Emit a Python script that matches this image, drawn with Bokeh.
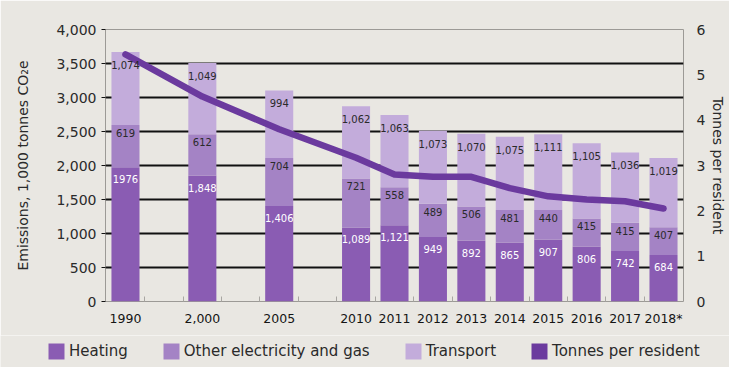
from bokeh.plotting import figure
from bokeh.layouts import column, row
from bokeh.models import (Range1d, LinearAxis, FixedTicker, Legend, LegendItem,
                          ColumnDataSource, NumeralTickFormatter)
from bokeh.core.properties import value
from bokeh.embed import file_html
from bokeh.resources import INLINE

# ---------------- data ----------------
years = ["1990", "2,000", "2005", "2010", "2011", "2012", "2013", "2014",
         "2015", "2016", "2017", "2018*"]
# category slots along the axis ("" = empty gap slot)
slots = ["1990", "", "2,000", "", "2005", "", "2010", "2011", "2012", "2013",
         "2014", "2015", "2016", "2017", "2018*"]
heating = [1976, 1848, 1406, 1089, 1121, 949, 892, 865, 907, 806, 742, 684]
other = [619, 612, 704, 721, 558, 489, 506, 481, 440, 415, 415, 407]
transport = [1074, 1049, 994, 1062, 1063, 1073, 1070, 1075, 1111, 1105, 1036, 1019]
per_resident = [5.45, 4.52, 3.8, 3.17, 2.8, 2.75, 2.75, 2.5, 2.32, 2.25, 2.21, 2.05]
heating_labels = ["1976", "1,848", "1,406", "1,089", "1,121", "949", "892", "865",
                  "907", "806", "742", "684"]
other_labels = [f"{v:,}" for v in other]
transport_labels = [f"{v:,}" for v in transport]
left_ticks = [0, 500, 1000, 1500, 2000, 2500, 3000, 3500, 4000]
right_ticks = [0, 1, 2, 3, 4, 5, 6]
legend_labels = ["Heating", "Other electricity and gas", "Transport", "Tonnes per resident"]

# ---------------- styles ----------------
BG = "#e9e7e2"
C_HEAT = "#8a5cb3"
C_OTHER = "#a483c5"
C_TRANS = "#c3acdb"
C_LINE = "#6b3a9e"
FONT = "DejaVu Sans"
TXT = "#2a2a2a"

x = [slots.index(y) for y in years]
src = ColumnDataSource(dict(
    x=x, heating=heating, other=other, transport=transport,
    y_other=[h + o for h, o in zip(heating, other)],
    y_total=[h + o + t for h, o, t in zip(heating, other, transport)],
    per_resident=per_resident,
    hl=heating_labels, ol=other_labels, tl=transport_labels,
))

p = figure(width=729, height=335, output_backend="svg", toolbar_location=None,
           x_range=Range1d(-0.52, 14.52), y_range=Range1d(0, 4000),
           background_fill_color=BG, border_fill_color=BG)
p.min_border = 0
p.min_border_left = 105
p.min_border_right = 44
p.min_border_top = 29
p.min_border_bottom = 34
p.outline_line_color = "#9c9a96"
p.outline_line_width = 1
p.extra_y_ranges = {"res": Range1d(0, 6)}

# grid
p.xgrid.visible = False
p.ygrid.ticker = FixedTicker(ticks=left_ticks[1:-1])
p.ygrid.grid_line_color = "#111111"
p.ygrid.grid_line_width = 2

# bars
rs = p.vbar_stack(["heating", "other", "transport"], x="x", width=0.73, source=src,
                  color=[C_HEAT, C_OTHER, C_TRANS], line_color=None)

# line
p.line("x", "per_resident", source=src, y_range_name="res",
       line_color=C_LINE, line_width=6.5, line_cap="round", line_join="round")

# bar labels
common = dict(source=src, text_font=value(FONT), text_font_size="10px",
              text_align="center", text_baseline="middle")
p.text(x="x", y="heating", text="hl", text_color="white", y_offset=12, **common)
p.text(x="x", y="y_other", text="ol", text_color=TXT, y_offset=8, **common)
p.text(x="x", y="y_total", text="tl", text_color=TXT, y_offset=13, **common)

# left axis
ya = p.yaxis[0]
ya.ticker = FixedTicker(ticks=left_ticks)
ya.formatter = NumeralTickFormatter(format="0,0")
ya.axis_line_color = None
ya.major_tick_line_color = "#111111"
ya.major_tick_out = 4
ya.major_tick_in = 0
ya.minor_tick_line_color = None
ya.major_label_text_font = FONT
ya.major_label_text_font_size = "14px"
ya.major_label_text_color = TXT
ya.major_label_standoff = 5
ya.axis_label = "Emissions, 1,000 tonnes CO₂e"
ya.axis_label_text_font = FONT
ya.axis_label_text_font_size = "14px"
ya.axis_label_text_font_style = "normal"
ya.axis_label_text_color = TXT
ya.axis_label_standoff = 22

# right axis
ra = LinearAxis(y_range_name="res", ticker=FixedTicker(ticks=right_ticks),
                axis_label="Tonnes per resident")
ra.axis_line_color = None
ra.major_tick_line_color = None
ra.minor_tick_line_color = None
ra.major_label_text_font = FONT
ra.major_label_text_font_size = "14px"
ra.major_label_text_color = TXT
ra.major_label_standoff = 7
ra.axis_label_text_font = FONT
ra.axis_label_text_font_size = "14px"
ra.axis_label_text_font_style = "normal"
ra.axis_label_text_color = TXT
ra.axis_label_standoff = 2
p.add_layout(ra, "right")

# x axis
xa = p.xaxis[0]
xa.ticker = FixedTicker(ticks=x, minor_ticks=[k + 0.5 for k in range(len(slots) - 1)])
xa.major_label_overrides = {xi: y for xi, y in zip(x, years)}
xa.axis_line_color = None
xa.major_tick_line_color = None
xa.minor_tick_line_color = "#a8a6a2"
xa.minor_tick_in = 5
xa.minor_tick_out = 0
xa.major_label_text_font = FONT
xa.major_label_text_font_size = "12.5px"
xa.major_label_text_font_style = "normal"
xa.major_label_text_color = "#151515"
xa.major_label_standoff = 3

# legend strip (separate plot whose frame spans the full width)
lg = figure(width=729, height=32, output_backend="svg", toolbar_location=None,
            x_range=Range1d(0, 1), y_range=Range1d(0, 1),
            background_fill_color=BG, border_fill_color=BG)
lg.min_border = 0
lg.outline_line_color = None
lg.axis.visible = False
lg.grid.visible = False
items = []
for lab, col in zip(legend_labels, [C_HEAT, C_OTHER, C_TRANS, C_LINE]):
    # zero-height swatch renderers (outside the strip's ranges): legend only
    r = lg.vbar(x="x", top=0, width=0.5, source=src, fill_color=col, line_color=None)
    items.append(LegendItem(label=lab, renderers=[r]))
legend = Legend(items=items, location=(46, 6), orientation="horizontal",
                glyph_width=20, glyph_height=20,
                label_text_font=FONT, label_text_font_size="15px", label_text_color=TXT,
                label_standoff=3, spacing=33, padding=0, margin=0,
                border_line_color=None, background_fill_alpha=0)
lg.add_layout(legend, "center")

layout = column(p, row(lg), spacing=0)
open("out.html", "w").write(file_html(layout, INLINE))
